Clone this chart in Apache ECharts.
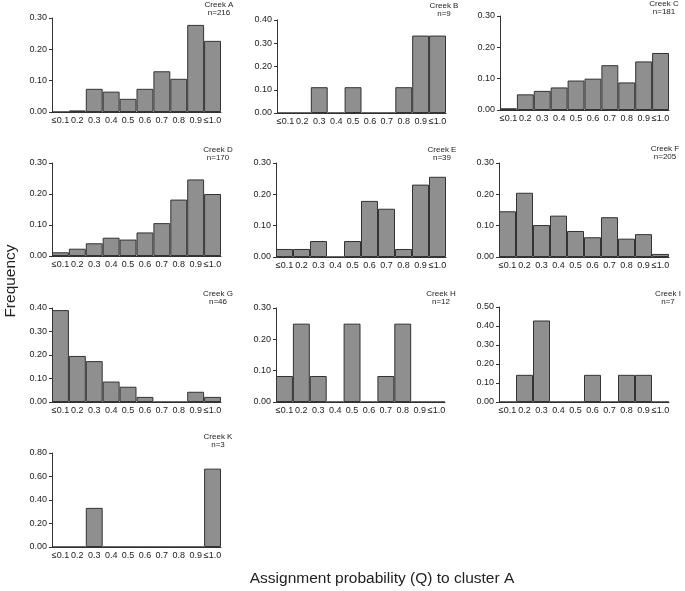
<!DOCTYPE html>
<html>
<head>
<meta charset="utf-8">
<script src="https://cdn.jsdelivr.net/npm/echarts@6/dist/echarts.min.js"></script>
<style>html,body{margin:0;padding:0;background:#fff}#c{width:685px;height:591px}</style>
</head>
<body>
<div id="c"></div>
<script>
const categories = ['≤0.1','0.2','0.3','0.4','0.5','0.6','0.7','0.8','0.9','≤1.0'];

const creekA = [0, 0.005, 0.074, 0.065, 0.042, 0.074, 0.130, 0.106, 0.278, 0.227];
const creekB = [0, 0, 0.111, 0, 0.111, 0, 0, 0.111, 0.333, 0.333];
const creekC = [0.0055, 0.050, 0.061, 0.072, 0.094, 0.100, 0.143, 0.088, 0.155, 0.182];
const creekD = [0.012, 0.0235, 0.041, 0.059, 0.053, 0.076, 0.106, 0.182, 0.247, 0.200];
const creekE = [0.0256, 0.0256, 0.051, 0, 0.051, 0.179, 0.154, 0.0256, 0.231, 0.256];
const creekF = [0.146, 0.205, 0.102, 0.132, 0.083, 0.063, 0.127, 0.0585, 0.073, 0.0098];
const creekG = [0.391, 0.196, 0.174, 0.087, 0.065, 0.0217, 0, 0, 0.0435, 0.0217];
const creekH = [0.083, 0.25, 0.083, 0, 0.25, 0, 0.083, 0.25, 0, 0];
const creekI = [0, 0.143, 0.429, 0, 0, 0.143, 0, 0.143, 0.143, 0];
const creekK = [0, 0, 0.333, 0, 0, 0, 0, 0, 0, 0.667];

const panelNames = ['Creek A','Creek B','Creek C','Creek D','Creek E','Creek F','Creek G','Creek H','Creek I','Creek K'];
const panelN = [216, 9, 181, 170, 39, 205, 46, 12, 7, 3];
const panelValues = [creekA, creekB, creekC, creekD, creekE, creekF, creekG, creekH, creekI, creekK];
const yMax = [0.3, 0.4, 0.3, 0.3, 0.3, 0.3, 0.4, 0.3, 0.5, 0.8];
const yStep = [0.1, 0.1, 0.1, 0.1, 0.1, 0.1, 0.1, 0.1, 0.1, 0.2];

const xAxisTitle = 'Assignment probability (Q) to cluster A';
const yAxisTitle = 'Frequency';

// layout (pixels)
const gridBoxes = [
  [52, 18, 169, 94], [277, 20, 169, 93], [500, 16, 169, 94],
  [52, 163, 169, 93], [276, 163, 170, 94], [499, 163, 170, 94],
  [52, 308, 169, 94], [276, 308, 169, 94], [499, 307, 170, 95],
  [52, 453, 169, 94]
];
const labelPos = [
  [219, 1], [444, 2], [664, 0],
  [218, 146], [442, 146], [665, 145],
  [218, 290], [441, 290], [668, 290],
  [218, 433]
];

const FONT = "'Liberation Sans', Arial, Helvetica, sans-serif";
const chart = echarts.init(document.getElementById('c'));

const grid = [], xAxis = [], yAxis = [], series = [], title = [];
panelValues.forEach((vals, i) => {
  const g = gridBoxes[i];
  grid.push({left: g[0], top: g[1], width: g[2], height: g[3], containLabel: false, outerBoundsMode: 'none'});
  xAxis.push({
    type: 'category', gridIndex: i, data: categories, boundaryGap: true,
    axisLine: {show: true, lineStyle: {color: '#333', width: 1}},
    axisTick: {show: false},
    axisLabel: {interval: 0, fontSize: 9, margin: 4, color: '#222', fontFamily: FONT, hideOverlap: false},
    splitLine: {show: false}
  });
  yAxis.push({
    type: 'value', gridIndex: i, min: 0, max: yMax[i], interval: yStep[i],
    axisLine: {show: true, lineStyle: {color: '#333', width: 1}},
    axisTick: {show: true, length: 3, lineStyle: {color: '#333'}},
    axisLabel: {fontSize: 9, margin: 5, color: '#222', fontFamily: FONT,
      formatter: v => v.toFixed(2)},
    splitLine: {show: false}
  });
  series.push({
    type: 'bar', xAxisIndex: i, yAxisIndex: i, data: vals,
    barCategoryGap: '0%', barGap: '0%',
    itemStyle: {color: '#8f8f90', borderColor: '#333', borderWidth: 1},
    silent: true, animation: false
  });
  title.push({
    text: panelNames[i] + '\nn=' + panelN[i],
    left: labelPos[i][0], top: labelPos[i][1], textAlign: 'center', padding: 0,
    textStyle: {fontSize: 8, lineHeight: 8, fontWeight: 'normal', color: '#222', fontFamily: FONT}
  });
});

chart.setOption({
  animation: false,
  title, grid, xAxis, yAxis, series,
  graphic: [
    {type: 'text', x: 11, y: 281, rotation: Math.PI / 2,
      style: {text: yAxisTitle, fontSize: 15.5, fontFamily: FONT, fill: '#222', textAlign: 'center', textVerticalAlign: 'middle'}},
    {type: 'text', x: 382, y: 579,
      style: {text: xAxisTitle, fontSize: 15.5, fontFamily: FONT, fill: '#222', textAlign: 'center', textVerticalAlign: 'middle'}}
  ]
});
</script>
</body>
</html>
